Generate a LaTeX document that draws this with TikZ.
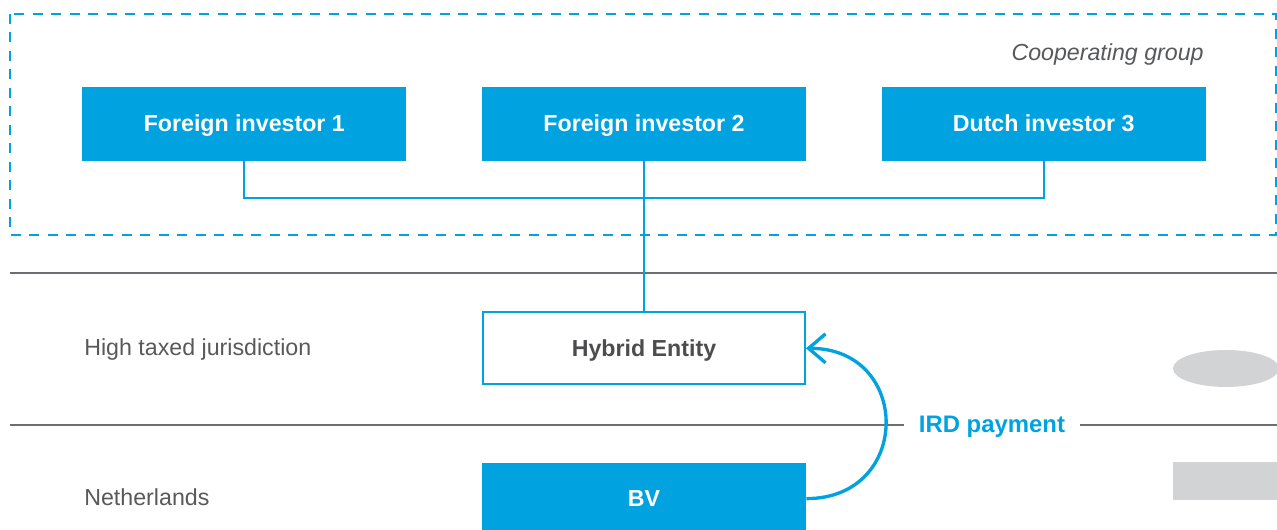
\documentclass[tikz,border=0pt]{standalone}
\usepackage{fontspec}
\setmainfont{Liberation Sans}
\usepackage{xcolor}
\usepackage{tikz}
\usetikzlibrary{arrows.meta, positioning}

\definecolor{irdblue}{HTML}{00A3DF}
\definecolor{labelgray}{HTML}{58595B}
\definecolor{darktext}{HTML}{4D4D4F}
\definecolor{rulegray}{HTML}{6D6E71}
\definecolor{shadegray}{HTML}{D1D3D4}

\begin{document}
\begin{tikzpicture}[
    x=2cm, y=2cm,
    every node/.style={font=\fontsize{13.2}{16}\selectfont, text height=0.9em, text depth=0pt},
    investor/.style={fill=irdblue, text=white, font=\fontsize{13.2}{16}\selectfont\bfseries,
        minimum width=6.48cm, minimum height=1.48cm, inner sep=0pt},
    entity/.style={draw=irdblue, line width=1.1pt, fill=white, text=darktext,
        font=\fontsize{13.2}{16}\selectfont\bfseries,
        minimum width=6.44cm, minimum height=1.44cm, inner sep=0pt},
    link/.style={draw=irdblue, line width=1.1pt},
    divider/.style={draw=rulegray, line width=0.75pt},
    region/.style={text=labelgray, anchor=west, inner sep=0pt}
]

    % 0. Khung trang
    \fill[white] (0,0) rectangle (12.77,5.30);
    \useasboundingbox (0,0) rectangle (12.77,5.30);

    % 1. Nhóm hợp tác (khung nét đứt)
    \draw[irdblue, line width=1.4pt, dash pattern=on 0.2cm off 0.17cm]
        (0.10,5.16) rectangle (12.76,2.95);

    \node[text=labelgray, anchor=east, inner sep=0pt,
          font=\fontsize{13.2}{16}\selectfont\itshape]
        (group) at (12.04,4.77) {Cooperating group};

    % 2. Các nhà đầu tư
    \node[investor] (inv2) at (6.44,4.06) {Foreign investor 2};
    \node[investor, left=1.5cm of inv2] (inv1) {Foreign investor 1};
    \node[investor, right=1.5cm of inv2] (inv3) {Dutch investor 3};

    % 3. Hai đường phân vùng
    \draw[divider] (0.10,2.57) -- (12.77,2.57);
    \draw[divider] (0.10,1.05) -- (12.77,1.05);

    % 4. Thực thể lai và BV
    \node[entity, below=3cm of inv2] (hybrid) {Hybrid Entity};
    \node[investor, minimum height=1.44cm, below=1.54cm of hybrid] (bv) {BV};

    % 5. Đường nối các nhà đầu tư
    \coordinate (bus) at (6.44,3.32);
    \draw[link] (inv1.south) |- (bus) -| (inv3.south);
    \draw[link] (inv2.south) -- (hybrid.north);

    % 6. Nhãn vùng
    \node[region] (high) at (0.84,1.82) {High taxed jurisdiction};
    \node[region] (nl) at (0.84,0.32) {Netherlands};

    % 7. Khoản thanh toán IRD
    \draw[irdblue, line width=1.9pt,
          -{Straight Barb[length=3.4mm, width=5.8mm, line width=1.9pt]}]
        (bv.east) to[out=0, in=0, looseness=1.8] (hybrid.east);

    \node[fill=white, text=irdblue, inner xsep=0.3cm,
          font=\fontsize{13.6}{16}\selectfont\bfseries]
        (ird) at (9.92,1.05) {IRD payment};

    % 8. Hình xám bên phải
    \fill[shadegray] (12.26,1.615) ellipse[x radius=1.06cm, y radius=0.37cm];
    \fill[shadegray] (11.73,0.30) rectangle (12.77,0.68);

\end{tikzpicture}
\end{document}
